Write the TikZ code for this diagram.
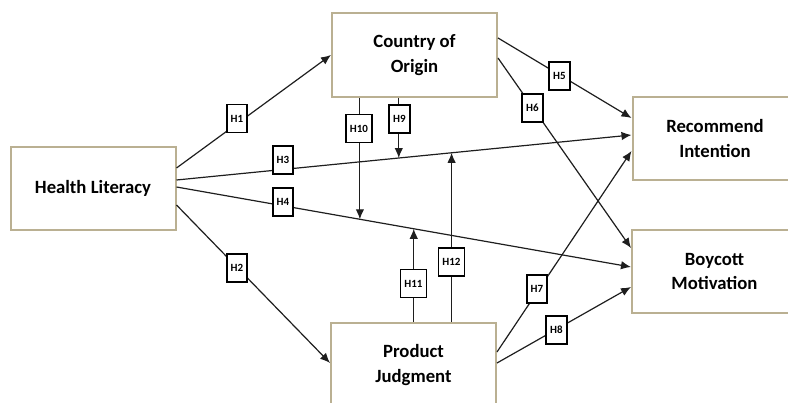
\documentclass[tikz,border=0pt]{standalone}
\usepackage{fontspec}
\setmainfont{Carlito}
\usetikzlibrary{arrows.meta,calc}
\definecolor{tanborder}{RGB}{186,176,146}
\definecolor{linecol}{RGB}{30,30,30}
\begin{document}
\begin{tikzpicture}[x=1pt,y=-1pt,
  bigbox/.style={draw=tanborder,line width=2pt,fill=white,minimum width=165pt,minimum height=83pt,
    align=center,inner sep=0pt,font=\fontsize{18.7}{24.5}\selectfont\bfseries},
  hlabel/.style={draw=black,line width=1.9pt,fill=white,minimum width=20pt,minimum height=28pt,
    inner xsep=4pt,inner ysep=0pt,font=\fontsize{11}{12}\selectfont\bfseries},
  conn/.style={draw=linecol,line width=1.2pt,-{Latex[length=10pt,width=8.5pt]}}]
\useasboundingbox (0,0) rectangle (788,403);
\clip (0,0) rectangle (788,403);
% boxes
\node[bigbox] (HL) at (93,188.5) {Health Literacy};
\node[bigbox,minimum height=84pt] (CoO) at (414.5,55) {Country of\\Origin};
\node[bigbox] (Rec) at (715,138.5) {Recommend\\Intention};
\node[bigbox] (Boy) at (714.5,271.5) {Boycott\\Motivation};
\node[bigbox,minimum height=84pt] (PJ) at (413.5,365) {Product\\Judgment};
% end points
\coordinate (h3a) at ([yshift=8.5pt]HL.east);
\coordinate (h3b) at ([yshift=3.5pt]Rec.west);
\coordinate (h4a) at ([yshift=1.5pt]HL.east);
\coordinate (h4b) at ([yshift=4.5pt]Boy.west);
\coordinate (p9) at ($(h3a)!0.4885!(h3b)$);
\coordinate (p12) at ($(h3a)!0.6046!(h3b)$);
\coordinate (p10) at ($(h4a)!0.4035!(h4b)$);
\coordinate (p11) at ($(h4a)!0.522!(h4b)$);
% connectors
\draw[conn] ([yshift=20.5pt]HL.east) -- (CoO.west);
\draw[conn] ([yshift=-16.5pt]HL.east) -- ([yshift=2pt]PJ.west);
\draw[conn] (h3a) -- (h3b);
\draw[conn] (h4a) -- (h4b);
\draw[conn] ([yshift=17pt]CoO.east) -- ([yshift=20.5pt]Rec.west);
\draw[conn] ([yshift=-3pt]CoO.east) -- ([yshift=23.5pt]Boy.west);
\draw[conn] ([yshift=13pt]PJ.east) -- ([yshift=-12.5pt]Rec.west);
\draw[conn] ([yshift=2pt]PJ.east) -- ([yshift=-15.5pt]Boy.west);
\draw[conn] (CoO.south -| p10) -- (p10);
\draw[conn] (CoO.south -| p9) -- (p9);
\draw[conn] (PJ.north -| p11) -- (p11);
\draw[conn] (PJ.north -| p12) -- (p12);
% labels
\node[hlabel] (L1) at (237,118.5) {H1};
\node[hlabel] (L2) at (237,268) {H2};
\node[hlabel] (L3) at (283,160) {H3};
\node[hlabel] (L4) at (283,202) {H4};
\node[hlabel] (L5) at (559.5,76) {H5};
\node[hlabel] (L6) at (532.5,108) {H6};
\node[hlabel] (L7) at (537,289) {H7};
\node[hlabel] (L8) at (556.5,330) {H8};
\node[hlabel] (L9) at (399.5,119) {H9};
\node[hlabel] (L10) at (359,128.5) {H10};
\node[hlabel] (L11) at (413.5,283.5) {H11};
\node[hlabel] (L12) at (451.5,262) {H12};
\end{tikzpicture}
\end{document}
